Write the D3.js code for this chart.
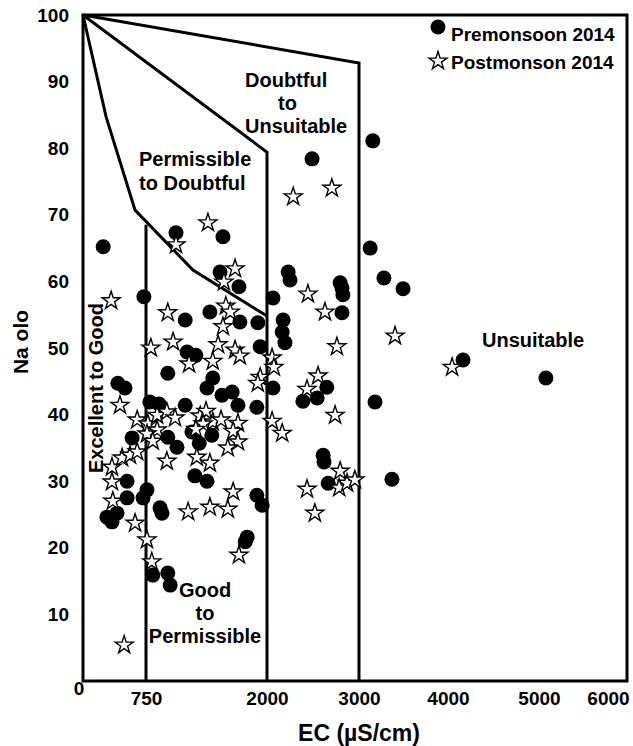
<!DOCTYPE html>
<html lang="en">
<head>
<meta charset="UTF-8">
<title>Wilcox diagram</title>
<script src="https://d3js.org/d3.v7.min.js"></script>
<style>
  body { margin: 0; background: #fff; }
  text { font-family: "Liberation Sans", Arial, sans-serif; font-weight: bold; fill: #000; }
</style>
</head>
<body>
<svg width="633" height="746"></svg>
<script>
// EC (uS/cm), Na %
const premonsoon = [
  [240,65.2],[1060,67.3],[1545,66.7],[725,57.7],[1155,54.2],[1175,49.4],[1265,48.9],[975,46.2],[415,44.7],[500,44.0],
  [790,41.9],[885,41.6],[1155,41.4],[585,36.5],[975,36.6],[1070,35.1],[1225,37.4],[1300,35.7],[1430,36.9],[525,30.0],
  [525,27.5],[760,28.7],[715,27.5],[285,24.6],[345,23.9],[405,25.2],[895,26.0],[915,25.2],[820,15.9],[975,16.2],
  [1000,14.4],[1255,30.8],[1380,30.0],[1895,27.9],[1950,26.4],[1795,21.6],[1775,20.9],[1515,61.4],[1710,59.2],[1410,55.4],
  [1720,53.9],[1905,53.8],[2065,57.5],[2230,61.4],[2250,60.2],[2175,54.2],[2165,52.4],[2195,50.8],[1930,50.2],[1440,45.5],
  [1380,44.0],[1535,42.9],[1640,43.4],[1700,41.4],[1895,41.1],[2065,44.0],[2490,78.4],[3155,81.1],[3125,65.0],[3280,60.5],
  [3495,58.9],[2795,59.8],[2815,59.0],[2825,58.0],[2815,55.3],[2390,42.0],[2545,42.5],[2650,44.1],[3180,41.9],[2610,33.9],
  [2620,32.9],[2665,29.7],[3370,30.3],[4165,48.2],[5100,45.5]
];
const postmonsoon = [
  [1390,68.8],[1060,65.5],[2285,72.7],[2705,74.0],[335,57.1],[975,55.3],[1030,50.9],[800,50.0],[1195,47.6],[440,41.4],
  [1670,61.9],[1555,59.9],[1575,56.3],[1620,55.4],[1545,53.2],[1495,50.5],[1670,49.7],[1720,48.8],[1440,48.0],[2445,58.1],
  [2630,55.4],[2760,50.2],[3405,51.8],[4045,47.1],[2055,48.5],[2075,47.1],[1930,45.6],[1905,44.7],[2555,45.8],[2435,43.8],
  [2740,39.9],[645,39.2],[770,38.6],[865,39.9],[965,40.4],[1050,39.5],[1310,39.8],[1370,40.5],[1440,38.9],[1525,39.2],
  [1700,38.7],[1650,37.5],[1700,35.9],[1595,35.0],[1340,38.6],[1265,37.8],[865,37.7],[760,37.1],[820,36.0],[965,33.0],
  [1275,33.6],[1410,32.7],[345,32.1],[465,33.5],[560,33.9],[645,34.4],[2055,39.0],[2165,37.2],[345,29.9],[355,27.0],
  [620,23.7],[760,21.2],[810,17.9],[490,5.4],[1185,25.4],[1410,26.1],[1595,25.8],[1650,28.4],[1710,18.9],[2435,28.8],
  [2520,25.2],[2795,31.5],[2785,29.0],[2870,29.7],[2955,30.2]
];

// class boundaries
const curveExcellent = [[0,100],[275,84.7],[620,70.7],[1235,61.7],[2000,54.8]];
const lineGood = [[750,68.5],[750,0]];
const linePermissible = [[0,100],[2000,79.4],[2000,0]];
const lineDoubtful = [[0,100],[3000,92.8],[3000,0]];

const ecTicks = [750, 2000, 3000, 4000, 5000, 6000];
const naTicks = [10, 20, 30, 40, 50, 60, 70, 80, 90, 100];

// the EC axis of the original is not evenly spaced
const x = d3.scaleLinear()
  .domain([0, 750, 2000, 3000, 4000, 5000, 6000, 6250])
  .range([83, 146, 267, 359, 448, 539, 608, 627]);
const y = d3.scaleLinear().domain([0, 100]).range([681, 15]);

const svg = d3.select("svg");
const x0 = x.range()[0], x1 = x.range()[x.range().length - 1];

svg.append("rect")
  .attr("x", x0).attr("y", y(100))
  .attr("width", x1 - x0).attr("height", y(0) - y(100))
  .attr("fill", "none").attr("stroke", "#000").attr("stroke-width", 3);

const line = d3.line().x(d => x(d[0])).y(d => y(d[1]));
[curveExcellent, lineGood, linePermissible, lineDoubtful].forEach(b => {
  svg.append("path").attr("d", line(b))
    .attr("fill", "none").attr("stroke", "#000")
    .attr("stroke-width", 3).attr("stroke-linejoin", "miter");
});

// axes
const xAxis = svg.append("g")
  .attr("transform", `translate(0,${y(0)})`)
  .call(d3.axisBottom(x).tickValues(ecTicks).tickFormat(d3.format("d")).tickSize(0).tickPadding(11));
const yAxis = svg.append("g")
  .attr("transform", `translate(${x0},0)`)
  .call(d3.axisLeft(y).tickValues(naTicks).tickFormat(d3.format("d")).tickSize(0).tickPadding(14));
[xAxis, yAxis].forEach(a => {
  a.select(".domain").remove();
  a.selectAll("text").style("font-size", "19px")
    .style("font-family", "'Liberation Sans', Arial, sans-serif").style("font-weight", "bold");
});
svg.append("text").attr("x", 79).attr("y", 695).attr("text-anchor", "middle")
  .style("font-size", "19px").text("0");

// points
const star = d3.symbol().type(d3.symbolStar).size(100);
svg.append("g").selectAll("circle")
  .data(premonsoon).enter().append("circle")
  .attr("cx", d => x(d[0])).attr("cy", d => y(d[1]))
  .attr("r", 7.5).attr("fill", "#000");
svg.append("g").selectAll("path")
  .data(postmonsoon).enter().append("path")
  .attr("d", star)
  .attr("transform", d => `translate(${x(d[0])},${y(d[1])})`)
  .attr("fill", "#fff").attr("stroke", "#000").attr("stroke-width", 1.4);

// region labels
const label = (t, px, py, size, anchor) => svg.append("text")
  .attr("x", px).attr("y", py).attr("text-anchor", anchor || "start")
  .style("font-size", size + "px").text(t);
label("Doubtful", 245, 87, 20);
label("to", 278, 110, 20);
label("Unsuitable", 245, 133, 20);
label("Permissible", 139, 166, 20);
label("to Doubtful", 139, 190, 20);
label("Good", 205, 597, 20, "middle");
label("to", 205, 620, 20, "middle");
label("Permissible", 205, 643, 20, "middle");
label("Unsuitable", 482, 347, 20);
svg.append("text").attr("transform", "translate(103,388) rotate(-90)")
  .attr("text-anchor", "middle").style("font-size", "20px").text("Excellent to Good");

// axis titles
svg.append("text").attr("transform", "translate(28,342) rotate(-90)")
  .attr("text-anchor", "middle").style("font-size", "21px").text("Na olo");
svg.append("text").attr("x", 359).attr("y", 741).attr("text-anchor", "middle")
  .style("font-size", "23px").text("EC (µS/cm)");

// legend
svg.append("circle").attr("cx", 438).attr("cy", 27).attr("r", 7.5).attr("fill", "#000");
label("Premonsoon 2014", 451, 41, 19);
svg.append("path").attr("d", star).attr("transform", "translate(438,61)")
  .attr("fill", "#fff").attr("stroke", "#000").attr("stroke-width", 1.4);
label("Postmonson 2014", 451, 69, 19);
</script>
</body>
</html>
